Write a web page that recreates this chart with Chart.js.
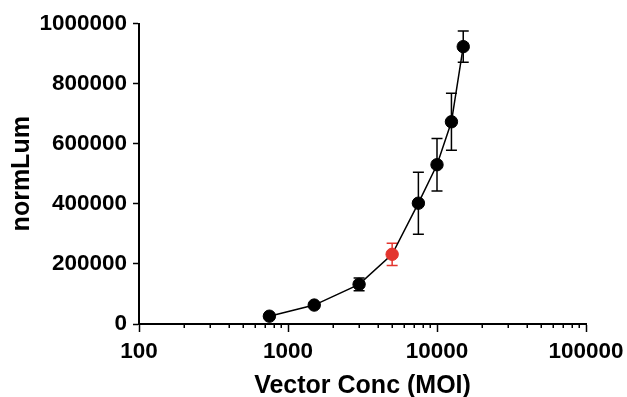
<!DOCTYPE html>
<html><head><meta charset="utf-8">
<script src="https://cdn.jsdelivr.net/npm/chart.js@4"></script>
<style>html,body{margin:0;padding:0;background:#fff}</style>
</head><body>
<canvas id="c" width="627" height="397"></canvas>
<script>
const xValues = [750, 1500, 3000, 5000, 7500, 10000, 12500, 15000];
const yValues = [26000, 63000, 132000, 232000, 402000, 530000, 673000, 923000];
const yErrors = [5000, 8000, 21000, 37000, 103000, 87000, 95000, 52000];
const pointColors = ['#000000', '#000000', '#000000', '#e3352e', '#000000', '#000000', '#000000', '#000000'];
const xMajorTicks = [100, 1000, 10000, 100000];
const xMinorTicks = [200, 300, 400, 500, 600, 700, 800, 900, 2000, 3000, 4000, 5000, 6000, 7000, 8000, 9000, 20000, 30000, 40000, 50000, 60000, 70000, 80000, 90000];
const yTicks = [0, 200000, 400000, 600000, 800000, 1000000];
const xTitle = 'Vector Conc (MOI)';
const yTitle = 'normLum';

const FAMILY = "'Liberation Sans', Arial, Helvetica, sans-serif";

const errorBars = {
  id: 'errorBars',
  beforeDatasetsDraw(chart) {
    const ctx = chart.ctx, xs = chart.scales.x, ys = chart.scales.y;
    ctx.save();
    ctx.lineWidth = 1.5;
    xValues.forEach((xv, i) => {
      const e = yErrors[i];
      if (!e) return;
      const px = xs.getPixelForValue(xv);
      const top = ys.getPixelForValue(yValues[i] + e);
      const bot = ys.getPixelForValue(yValues[i] - e);
      ctx.strokeStyle = pointColors[i];
      ctx.beginPath();
      ctx.moveTo(px, top); ctx.lineTo(px, bot);
      ctx.moveTo(px - 5.5, top); ctx.lineTo(px + 5.5, top);
      ctx.moveTo(px - 5.5, bot); ctx.lineTo(px + 5.5, bot);
      ctx.stroke();
    });
    ctx.restore();
  }
};

const minorTicks = {
  id: 'minorTicks',
  afterDraw(chart) {
    const ctx = chart.ctx, xs = chart.scales.x;
    const y0 = chart.chartArea.bottom;
    ctx.save();
    ctx.strokeStyle = '#000';
    ctx.lineWidth = 1.5;
    ctx.beginPath();
    xMinorTicks.forEach(v => {
      const px = Math.round(xs.getPixelForValue(v)) + 0.25;
      ctx.moveTo(px, y0);
      ctx.lineTo(px, y0 + 4);
    });
    ctx.stroke();
    ctx.restore();
  }
};

new Chart(document.getElementById('c'), {
  type: 'line',
  data: {
    datasets: [{
      data: xValues.map((x, i) => ({x: x, y: yValues[i]})),
      borderColor: '#000',
      borderWidth: 1.5,
      pointRadius: 6.2,
      pointHoverRadius: 6.2,
      pointBackgroundColor: pointColors,
      pointBorderColor: pointColors,
      pointBorderWidth: 1,
      tension: 0,
      fill: false
    }]
  },
  options: {
    responsive: false,
    animation: false,
    plugins: { legend: { display: false }, tooltip: { enabled: false } },
    layout: { padding: { top: 23.5, right: 41, left: 0, bottom: 0 } },
    scales: {
      x: {
        type: 'logarithmic',
        min: 100, max: 100000,
        afterBuildTicks: s => { s.ticks = xMajorTicks.map(v => ({value: v})); },
        afterFit: s => { s.height = 73; s.paddingLeft = 0; s.paddingRight = 0; },
        ticks: {
          autoSkip: false, maxRotation: 0, color: '#000', padding: 6,
          font: { family: FAMILY, size: 22.5, weight: 'bold' },
          callback: v => String(v)
        },
        grid: { drawOnChartArea: false, tickLength: 8, tickColor: '#000', tickWidth: 1.5 },
        border: { color: '#000', width: 2 },
        title: {
          display: true, text: xTitle, color: '#000',
          font: { family: FAMILY, size: 25, weight: 'bold', lineHeight: 0.9 },
          padding: { top: 0, bottom: 0 }
        }
      },
      y: {
        min: 0, max: 1000000,
        afterBuildTicks: s => { s.ticks = yTicks.map(v => ({value: v})); },
        afterFit: s => { s.width = 139; s.paddingTop = 0; s.paddingBottom = 0; },
        ticks: {
          color: '#000', padding: 6,
          font: { family: FAMILY, size: 22.5, weight: 'bold' },
          callback: v => String(v)
        },
        grid: { drawOnChartArea: false, tickLength: 6, tickColor: '#000', tickWidth: 1.5 },
        border: { color: '#000', width: 2 },
        title: {
          display: true, text: yTitle, color: '#000',
          font: { family: FAMILY, size: 25, weight: 'bold', lineHeight: 1.2 },
          padding: { top: 7, bottom: 0 }
        }
      }
    }
  },
  plugins: [errorBars, minorTicks]
});
</script>
</body></html>
